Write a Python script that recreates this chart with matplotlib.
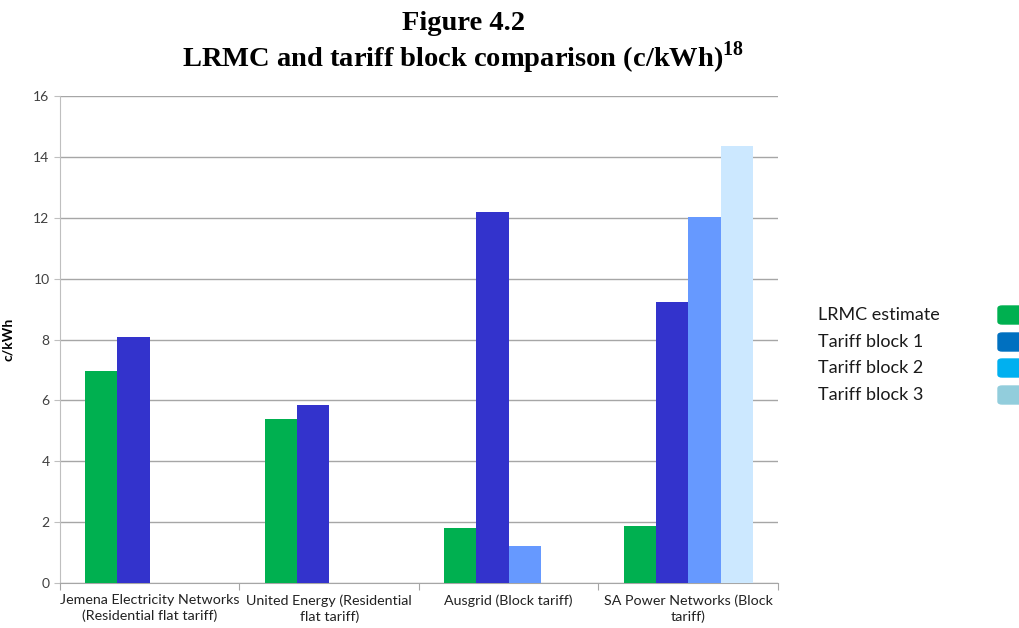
"""
LRMC and tariff block comparison (c/kWh) - Figure 4.2
"""
import matplotlib.pyplot as plt
import matplotlib.patches as mpatches
import numpy as np

# Données
categories = ['Jemena Electricity Networks\n(Residential flat tariff)',
              'United Energy (Residential\nflat tariff)',
              'Ausgrid (Block tariff)',
              'SA Power Networks (Block\ntariff)']
lrmc = [6.95, 5.4, 1.82, 1.87]
block1 = [8.07, 5.86, 12.2, 9.23]
block2 = [np.nan, np.nan, 1.22, 12.03]
block3 = [np.nan, np.nan, np.nan, 14.35]
series_names = ['LRMC estimate', 'Tariff block 1', 'Tariff block 2', 'Tariff block 3']

bar_colors = ['#00b050', '#3333cc', '#6699ff', '#cce8ff']
legend_colors = ['#00b050', '#0070c0', '#00b0f0', '#92cddc']

plt.rcParams['mathtext.fontset'] = 'custom'
plt.rcParams['mathtext.bf'] = 'Liberation Serif:bold'
plt.rcParams['mathtext.rm'] = 'Liberation Serif:bold'

fig = plt.figure(figsize=(10.2, 6.28), dpi=100)
ax = fig.add_axes([0.0588, 0.0717, 0.7039, 0.7753])

x = np.arange(len(categories))
width = 0.18
series = [lrmc, block1, block2, block3]
for i, vals in enumerate(series):
    ax.bar(x - 1.5 * width + i * width, vals, width, color=bar_colors[i], zorder=3)

ax.set_xlim(-0.5, len(categories) - 0.5)
ax.set_ylim(0, 16)
ax.set_yticks(range(0, 17, 2))
ax.grid(True, axis='y', color='#a6a6a6', linewidth=1.0, zorder=0)
for s in ['top', 'right']:
    ax.spines[s].set_visible(False)
ax.spines['left'].set_color('#bfbfbf')
ax.spines['bottom'].set_color('#a6a6a6')

# ticks entre les catégories
ax.set_xticks(np.arange(-0.5, len(categories), 1.0))
ax.set_xticklabels([])
ax.tick_params(axis='x', length=5, color='#a6a6a6')
ax.set_xticks(x, minor=True)
ax.set_xticklabels(categories, minor=True, fontsize=10.3, family='Lato', color='#222222',
                   linespacing=1.35)
ax.tick_params(axis='x', which='minor', length=0, pad=8)
ax.tick_params(axis='y', length=4, color='#bfbfbf', labelsize=10, labelcolor='#404040')
for lab in ax.get_yticklabels():
    lab.set_family('Lato')

ax.set_ylabel('c/kWh', fontsize=10, fontweight='bold', family='Lato', labelpad=14)

# Titre
fig.text(0.454, 0.962, 'Figure 4.2', ha='center', va='center',
         fontsize=20.5, fontweight='bold', family='Liberation Serif')
fig.text(0.454, 0.908, r'LRMC and tariff block comparison (c/kWh)$^{\mathbf{18}}$',
         ha='center', va='center', fontsize=20.5, fontweight='bold', family='Liberation Serif')

# Légende manuelle
ys = [315, 342, 368, 395]
for name, col, yp in zip(series_names, legend_colors, ys):
    yf = 1 - yp / 628
    fig.text(818 / 1020, yf, name, ha='left', va='center', fontsize=13,
             family='Lato', color='#1a1a1a')
    fig.patches.append(mpatches.FancyBboxPatch((998 / 1020, yf - 9 / 628), 30 / 1020, 18 / 628,
                                               boxstyle='round,pad=0,rounding_size=0.004',
                                               transform=fig.transFigure, color=col,
                                               figure=fig))

fig.savefig('out.png', dpi=100)
